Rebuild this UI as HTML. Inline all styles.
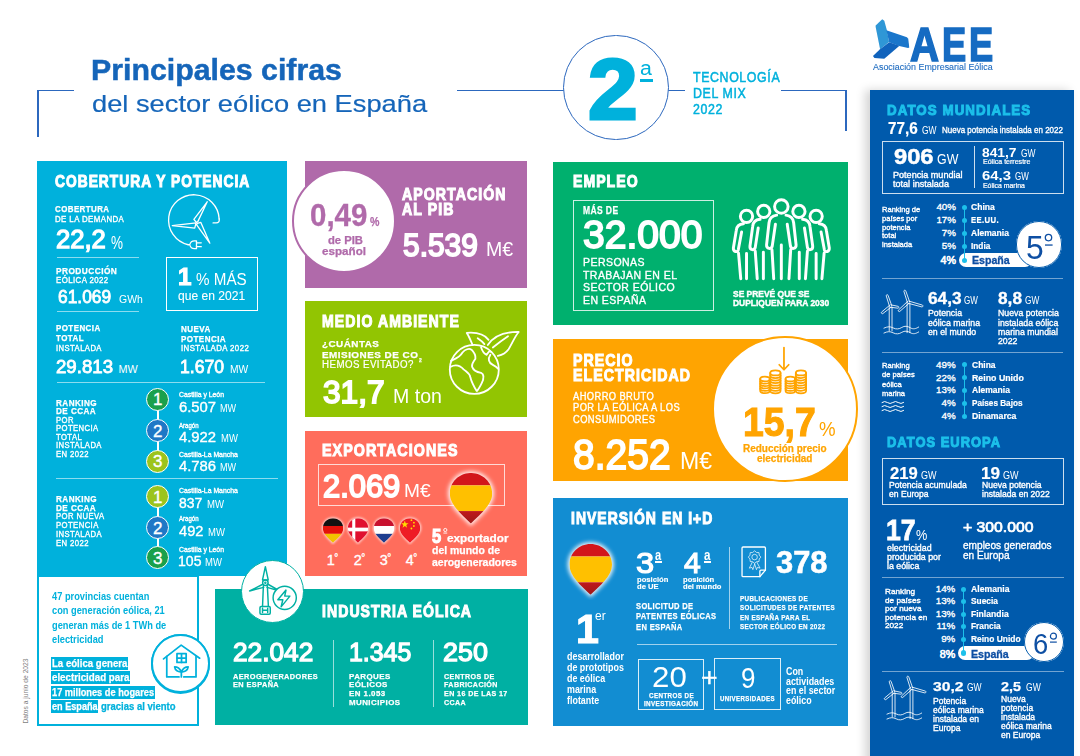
<!DOCTYPE html><html><head><meta charset="utf-8"><style>
html,body{margin:0;padding:0;background:#fff;}body{width:1080px;height:756px;position:relative;overflow:hidden;font-family:"Liberation Sans",sans-serif;}.r{position:absolute;display:block}.t{position:absolute;white-space:nowrap;transform-origin:0 0;}.t sup,.t sub{font-size:55%;line-height:0}
</style></head><body>
<div class="r" style="left:36.949999999999996px;top:89.7px;width:1.7px;height:47.8px;background:#2c68be"></div>
<div class="r" style="left:37px;top:89.65px;width:37px;height:1.7px;background:#2c68be"></div>
<div class="r" style="left:457px;top:89.65px;width:107px;height:1.7px;background:#2c68be"></div>
<div class="r" style="left:668px;top:89.65px;width:17px;height:1.7px;background:#2c68be"></div>
<div class="r" style="left:781px;top:89.65px;width:66px;height:1.7px;background:#2c68be"></div>
<div class="r" style="left:845.4499999999999px;top:89.7px;width:1.7px;height:41.8px;background:#2c68be"></div>
<div class="r" style="left:563.2px;top:34.7px;width:105.6px;height:105.6px;border-radius:50%;background:#fff;box-sizing:border-box;border:1.8px solid #2c68be;"></div>
<div class="r" style="left:640px;top:79px;width:13px;height:2.5px;background:#00b1dc;"></div>
<div class="r" style="left:37px;top:160.5px;width:250px;height:415.5px;background:#00b1dc;"></div>
<div class="r" style="left:37px;top:575px;width:162px;height:150.5px;border:2px solid #00b1dc;box-sizing:border-box;background:#fff"></div>
<div class="r" style="left:305.2px;top:160.8px;width:222.3px;height:127.39999999999998px;background:#b06aaa;"></div>
<div class="r" style="left:305.2px;top:300.9px;width:222.3px;height:116.10000000000002px;background:#92c502;"></div>
<div class="r" style="left:305.2px;top:431px;width:222.3px;height:144.5px;background:#ff6d5c;"></div>
<div class="r" style="left:215px;top:588.5px;width:312.5px;height:136.5px;background:#00b0a3;"></div>
<div class="r" style="left:553px;top:162px;width:294.5px;height:163px;background:#00b06e;"></div>
<div class="r" style="left:553px;top:339.2px;width:294.5px;height:142.3px;background:#ffa401;"></div>
<div class="r" style="left:553px;top:497.7px;width:294.5px;height:228.8px;background:#128dd2;"></div>
<div class="r" style="left:870.2px;top:90px;width:203.8px;height:680px;background:#005aac;box-shadow:-5px 0 9px rgba(0,0,0,0.17)"></div>
<div class="r" style="left:57px;top:256.7px;width:81.5px;height:1px;background:rgba(255,255,255,0.55)"></div>
<div class="r" style="left:57.4px;top:310.75px;width:81.4px;height:1px;background:rgba(255,255,255,0.55)"></div>
<div class="r" style="left:166.3px;top:257px;width:91.69999999999999px;height:54px;border:1px solid #fff;box-sizing:border-box;"></div>
<div class="r" style="left:57.4px;top:381.8px;width:207.6px;height:1px;background:rgba(255,255,255,0.55)"></div>
<div class="r" style="left:55.5px;top:477.9px;width:222.2px;height:1px;background:rgba(255,255,255,0.55)"></div>
<div class="r" style="left:157.05px;top:399px;width:1.5px;height:62px;background:#fff"></div>
<div class="r" style="left:157.05px;top:496px;width:1.5px;height:61px;background:#fff"></div>
<div class="r" style="left:146.3px;top:387.5px;width:23.0px;height:23.0px;border-radius:50%;background:#1aa04c;box-sizing:border-box;border:1.5px solid #fff;"></div>
<div class="r" style="left:146.3px;top:419.0px;width:23.0px;height:23.0px;border-radius:50%;background:#1f78c6;box-sizing:border-box;border:1.5px solid #fff;"></div>
<div class="r" style="left:146.3px;top:449.5px;width:23.0px;height:23.0px;border-radius:50%;background:#9cc41c;box-sizing:border-box;border:1.5px solid #fff;"></div>
<div class="r" style="left:146.3px;top:484.9px;width:23.0px;height:23.0px;border-radius:50%;background:#9cc41c;box-sizing:border-box;border:1.5px solid #fff;"></div>
<div class="r" style="left:146.3px;top:515.9px;width:23.0px;height:23.0px;border-radius:50%;background:#1f78c6;box-sizing:border-box;border:1.5px solid #fff;"></div>
<div class="r" style="left:146.3px;top:546.0px;width:23.0px;height:23.0px;border-radius:50%;background:#1aa04c;box-sizing:border-box;border:1.5px solid #fff;"></div>
<div class="r" style="left:51.4px;top:657px;width:76.79999999999998px;height:12.5px;background:#00b1dc;"></div>
<div class="r" style="left:51.4px;top:671px;width:78.9px;height:12.5px;background:#00b1dc;"></div>
<div class="r" style="left:51.4px;top:686px;width:103.5px;height:12.5px;background:#00b1dc;"></div>
<div class="r" style="left:51.4px;top:700px;width:47.1px;height:12.5px;background:#00b1dc;"></div>
<div class="r" style="left:150.8px;top:634.3px;width:59.4px;height:59.4px;border-radius:50%;background:#fff;box-sizing:border-box;border:2px solid #00b1dc;"></div>
<div class="r" style="left:292px;top:169px;width:104px;height:104px;border-radius:50%;background:#fff;box-sizing:border-box;border:2px solid #b06aaa;"></div>
<div class="r" style="left:317.7px;top:464.3px;width:187.10000000000002px;height:41.69999999999999px;border:1px solid rgba(255,255,255,0.75);box-sizing:border-box;"></div>
<div class="r" style="left:332.9px;top:639.6px;width:1px;height:67.89999999999998px;background:rgba(255,255,255,0.6)"></div>
<div class="r" style="left:433.2px;top:639.6px;width:1px;height:67.89999999999998px;background:rgba(255,255,255,0.6)"></div>
<div class="r" style="left:572.8px;top:199.7px;width:140.9000000000001px;height:111.60000000000002px;border:1px solid rgba(255,255,255,0.8);box-sizing:border-box;"></div>
<div class="r" style="left:712.0999999999999px;top:335.8px;width:146.4px;height:146.4px;border-radius:50%;background:#fff;box-sizing:border-box;border:2px solid #ffa401;"></div>
<div class="r" style="left:655.2px;top:561.4px;width:7.0px;height:1.8000000000000682px;background:#fff;"></div>
<div class="r" style="left:703.8px;top:561.4px;width:7.400000000000091px;height:1.8000000000000682px;background:#fff;"></div>
<div class="r" style="left:729.1px;top:546.5px;width:1px;height:82.0px;background:rgba(255,255,255,0.6)"></div>
<div class="r" style="left:637px;top:644.0px;width:199.60000000000002px;height:1px;background:rgba(255,255,255,0.6)"></div>
<div class="r" style="left:637.8px;top:658.9px;width:66.70000000000005px;height:51.60000000000002px;border:1px solid rgba(255,255,255,0.85);box-sizing:border-box;"></div>
<div class="r" style="left:714px;top:658.3px;width:67px;height:51.80000000000007px;border:1px solid rgba(255,255,255,0.85);box-sizing:border-box;"></div>
<div class="r" style="left:882.3px;top:140.6px;width:181.29999999999995px;height:53.70000000000002px;border:1px solid rgba(255,255,255,0.8);box-sizing:border-box;"></div>
<div class="r" style="left:974.0px;top:145.7px;width:1px;height:42.5px;background:rgba(255,255,255,0.8)"></div>
<div class="r" style="left:958.8px;top:253.1px;width:73.20000000000005px;height:14.400000000000006px;background:#fff;border-radius:7.200000000000003px"></div>
<div class="r" style="left:1015.6000000000001px;top:221.1px;width:46.6px;height:46.6px;border-radius:50%;background:#fff;box-sizing:border-box;border:0px solid #005aac;"></div>
<div class="r" style="left:881.5px;top:278.1px;width:181.5px;height:1px;background:rgba(255,255,255,0.45)"></div>
<div class="r" style="left:881.5px;top:352.1px;width:181.5px;height:1px;background:rgba(255,255,255,0.45)"></div>
<div class="r" style="left:882.3px;top:458.3px;width:181.4000000000001px;height:46.89999999999998px;border:1px solid rgba(255,255,255,0.8);box-sizing:border-box;"></div>
<div class="r" style="left:881.7px;top:576.9px;width:181.89999999999986px;height:1px;background:rgba(255,255,255,0.45)"></div>
<div class="r" style="left:958.3px;top:646.2px;width:76px;height:14.1px;background:#fff;border-radius:7.05px"></div>
<div class="r" style="left:1023.9999999999999px;top:621.9px;width:40.2px;height:40.2px;border-radius:50%;background:#fff;box-sizing:border-box;"></div>
<div class="r" style="left:881.7px;top:670.7px;width:181.89999999999986px;height:1px;background:rgba(255,255,255,0.45)"></div>
<svg class="r" style="left:870px;top:15px" width="45" height="45" viewBox="0 0 756 756"><polygon points="95,175 205,70 240,95 285,260 320,455 170,575 95,200" fill="#2f97d6"/><polygon points="275,255 620,375 642,400 660,545 640,555 490,520 322,458" fill="#1a76cb"/><polygon points="168,575 322,458 495,518 240,735 75,722 50,690" fill="#1063bc"/></svg>
<svg class="r" style="left:162px;top:188px" width="66" height="66" viewBox="0 0 756 756"><g fill="none" stroke="#fff" stroke-width="15" stroke-linejoin="round" stroke-linecap="round"><path d="M655,355 A290,290 0 1 0 300,650"/><path d="M655,355 Q662,400 620,400 L585,400"/><path d="M300,648 L318,648 Q330,605 370,605 L395,605 L395,695 L370,695 Q330,695 318,652"/><path d="M395,628 L450,628 M395,672 L450,672"/><path d="M395,395 L365,360 L518,158 L410,385 Z"/><path d="M390,400 L118,430 L375,460 Z"/><path d="M405,405 L445,395 L548,632 L395,420 Z"/></g></svg>
<svg class="r" style="left:440px;top:325px" width="85" height="85" viewBox="0 0 756 756"><g fill="none" stroke="#fff" stroke-width="16" stroke-linejoin="round" stroke-linecap="round"><circle cx="305" cy="395" r="218"/><path d="M290,178 C270,130 255,95 238,70 C330,62 400,90 432,132"/><path d="M335,118 C360,135 380,150 395,170"/><path d="M425,178 C480,95 580,60 700,62 C660,110 640,170 610,215 C585,250 555,265 515,275"/><path d="M470,200 C520,160 560,130 605,100"/><path d="M98,318 C140,300 175,290 200,245 C225,215 260,205 280,220 C300,240 320,270 315,300 C300,325 280,345 285,370 C295,400 330,420 365,425 C395,440 390,480 370,520 C355,550 340,575 330,585"/><path d="M92,372 C135,350 175,355 210,395 C240,420 265,430 270,465 C280,505 300,545 325,585"/><path d="M365,198 C375,230 390,255 415,265 C430,240 440,225 455,240"/><path d="M448,265 C425,300 430,335 470,355 C490,365 505,375 518,390"/></g></svg>
<svg class="r" style="left:560px;top:535px" width="60" height="65" viewBox="0 0 698 756"><defs><clipPath id="cpa"><path d="M355,695 C250,590 110,480 110,345 C110,210 220,105 355,105 C490,105 605,210 605,345 C605,480 460,590 355,695 Z"/></clipPath><filter id="gla" x="-30%" y="-30%" width="160%" height="160%"><feGaussianBlur stdDeviation="22"/></filter><linearGradient id="lga" x1="0" y1="0" x2="0" y2="1"><stop offset="0" stop-color="#c0181c"/><stop offset="1" stop-color="#8e1a17"/></linearGradient></defs><path d="M355,695 C250,590 110,480 110,345 C110,210 220,105 355,105 C490,105 605,210 605,345 C605,480 460,590 355,695 Z" fill="#fff" stroke="#fff" stroke-width="40" filter="url(#gla)" opacity="0.95"/><g clip-path="url(#cpa)"><rect x="0" y="0" width="698" height="250" fill="#d2161b"/><rect x="0" y="250" width="698" height="300" fill="#ffc000"/><rect x="0" y="550" width="698" height="206" fill="url(#lga)"/></g></svg>
<svg class="r" style="left:440.44444444444446px;top:464.01271186440675px" width="60.63" height="64.71" viewBox="0 0 698 756"><defs><clipPath id="cpb"><path d="M355,695 C250,590 110,480 110,345 C110,210 220,105 355,105 C490,105 605,210 605,345 C605,480 460,590 355,695 Z"/></clipPath><filter id="glb" x="-30%" y="-30%" width="160%" height="160%"><feGaussianBlur stdDeviation="22"/></filter><linearGradient id="lgb" x1="0" y1="0" x2="0" y2="1"><stop offset="0" stop-color="#c0181c"/><stop offset="1" stop-color="#8e1a17"/></linearGradient></defs><path d="M355,695 C250,590 110,480 110,345 C110,210 220,105 355,105 C490,105 605,210 605,345 C605,480 460,590 355,695 Z" fill="#fff" stroke="#fff" stroke-width="40" filter="url(#glb)" opacity="0.95"/><g clip-path="url(#cpb)"><rect x="0" y="0" width="698" height="250" fill="#d2161b"/><rect x="0" y="250" width="698" height="300" fill="#ffc000"/><rect x="0" y="550" width="698" height="206" fill="url(#lgb)"/></g></svg>
<svg class="r" style="left:317.76444444444445px;top:513.7576271186441px" width="29.471111111111107" height="31.265084745762714" viewBox="0 0 698 756"><defs><clipPath id="cpde"><path d="M355,695 C250,590 110,480 110,345 C110,210 220,105 355,105 C490,105 605,210 605,345 C605,480 460,590 355,695 Z"/></clipPath><filter id="glde" x="-30%" y="-30%" width="160%" height="160%"><feGaussianBlur stdDeviation="30"/></filter></defs><path d="M355,695 C250,590 110,480 110,345 C110,210 220,105 355,105 C490,105 605,210 605,345 C605,480 460,590 355,695 Z" fill="#fff" stroke="#fff" stroke-width="50" filter="url(#glde)" opacity="0.7"/><g clip-path="url(#cpde)"><rect width="698" height="290" fill="#111"/><rect y="290" width="698" height="190" fill="#e3120b"/><rect y="480" width="698" height="276" fill="#f2c200"/></g></svg>
<svg class="r" style="left:343.1644444444444px;top:513.7576271186441px" width="29.471111111111107" height="31.265084745762714" viewBox="0 0 698 756"><defs><clipPath id="cpdk"><path d="M355,695 C250,590 110,480 110,345 C110,210 220,105 355,105 C490,105 605,210 605,345 C605,480 460,590 355,695 Z"/></clipPath><filter id="gldk" x="-30%" y="-30%" width="160%" height="160%"><feGaussianBlur stdDeviation="30"/></filter></defs><path d="M355,695 C250,590 110,480 110,345 C110,210 220,105 355,105 C490,105 605,210 605,345 C605,480 460,590 355,695 Z" fill="#fff" stroke="#fff" stroke-width="50" filter="url(#gldk)" opacity="0.7"/><g clip-path="url(#cpdk)"><rect width="698" height="756" fill="#e0102f"/><rect x="215" width="75" height="756" fill="#fff"/><rect y="330" width="698" height="90" fill="#fff"/></g></svg>
<svg class="r" style="left:369.1644444444444px;top:513.7576271186441px" width="29.471111111111107" height="31.265084745762714" viewBox="0 0 698 756"><defs><clipPath id="cpnl"><path d="M355,695 C250,590 110,480 110,345 C110,210 220,105 355,105 C490,105 605,210 605,345 C605,480 460,590 355,695 Z"/></clipPath><filter id="glnl" x="-30%" y="-30%" width="160%" height="160%"><feGaussianBlur stdDeviation="30"/></filter></defs><path d="M355,695 C250,590 110,480 110,345 C110,210 220,105 355,105 C490,105 605,210 605,345 C605,480 460,590 355,695 Z" fill="#fff" stroke="#fff" stroke-width="50" filter="url(#glnl)" opacity="0.7"/><g clip-path="url(#cpnl)"><rect width="698" height="290" fill="#c8102e"/><rect y="290" width="698" height="190" fill="#fff"/><rect y="480" width="698" height="276" fill="#1e3d8f"/></g></svg>
<svg class="r" style="left:395.1644444444444px;top:513.7576271186441px" width="29.471111111111107" height="31.265084745762714" viewBox="0 0 698 756"><defs><clipPath id="cpcn"><path d="M355,695 C250,590 110,480 110,345 C110,210 220,105 355,105 C490,105 605,210 605,345 C605,480 460,590 355,695 Z"/></clipPath><filter id="glcn" x="-30%" y="-30%" width="160%" height="160%"><feGaussianBlur stdDeviation="30"/></filter></defs><path d="M355,695 C250,590 110,480 110,345 C110,210 220,105 355,105 C490,105 605,210 605,345 C605,480 460,590 355,695 Z" fill="#fff" stroke="#fff" stroke-width="50" filter="url(#glcn)" opacity="0.7"/><g clip-path="url(#cpcn)"><rect width="698" height="756" fill="#ee1c25"/><polygon points="230,160 252,225 320,225 265,265 285,330 230,290 175,330 195,265 140,225 208,225" fill="#ffde00"/><circle cx="390" cy="150" r="22" fill="#ffde00"/><circle cx="450" cy="210" r="22" fill="#ffde00"/><circle cx="450" cy="290" r="22" fill="#ffde00"/><circle cx="390" cy="350" r="22" fill="#ffde00"/></g></svg>
<svg class="r" style="left:725px;top:192px" width="115" height="93" viewBox="0 0 935 756"><g fill="none" stroke="#fff" stroke-width="24" stroke-linejoin="round" stroke-linecap="round"><circle cx="458" cy="118" r="55"/><circle cx="315" cy="158" r="50"/><circle cx="175" cy="198" r="50"/><circle cx="601" cy="158" r="50"/><circle cx="741" cy="198" r="50"/><path d="M420,188 C385,192 362,212 358,250 L338,430 C336,462 378,470 384,440 L410,262"/><path d="M496,188 C531,192 554,212 558,250 L578,430 C580,462 538,470 532,440 L506,262"/><path d="M382,470 L396,705 M458,430 L458,705 M534,470 L520,705"/><path d="M285,222 C250,225 228,245 225,280 L203,440 C200,472 240,480 246,450 L270,292"/><path d="M246,482 L262,705 M312,490 L312,705"/><path d="M631,222 C666,225 688,245 691,280 L713,440 C716,472 676,480 670,450 L646,292"/><path d="M670,482 L654,705 M604,490 L604,705"/><path d="M150,258 C110,262 95,280 92,310 L68,455 C65,487 102,495 108,470 L135,325"/><path d="M110,497 L128,705 M175,500 L175,705"/><path d="M766,258 C806,262 821,280 824,310 L848,455 C851,487 814,495 808,470 L781,325"/><path d="M806,497 L788,705 M741,500 L741,705"/></g></svg>
<svg class="r" style="left:750px;top:340px" width="70" height="60" viewBox="0 0 882 756"><g fill="none" stroke="#ffa401" stroke-width="22" stroke-linejoin="round" stroke-linecap="round"><path d="M428,95 V372 M368,312 L428,375 L488,312"/><path d="M128,490 V640 A60,30 0 0 0 248,640 V490"/><ellipse cx="188" cy="490" rx="60" ry="30"/><path d="M128,520.0 A60,30 0 0 0 248,520.0"/><path d="M128,550.0 A60,30 0 0 0 248,550.0"/><path d="M128,580.0 A60,30 0 0 0 248,580.0"/><path d="M128,610.0 A60,30 0 0 0 248,610.0"/><path d="M255,415 V640 A65,32 0 0 0 385,640 V415"/><ellipse cx="320" cy="415" rx="65" ry="32"/><path d="M255,447.14285714285717 A65,32 0 0 0 385,447.14285714285717"/><path d="M255,479.2857142857143 A65,32 0 0 0 385,479.2857142857143"/><path d="M255,511.42857142857144 A65,32 0 0 0 385,511.42857142857144"/><path d="M255,543.5714285714286 A65,32 0 0 0 385,543.5714285714286"/><path d="M255,575.7142857142858 A65,32 0 0 0 385,575.7142857142858"/><path d="M255,607.8571428571429 A65,32 0 0 0 385,607.8571428571429"/><path d="M448,490 V640 A60,30 0 0 0 568,640 V490"/><ellipse cx="508" cy="490" rx="60" ry="30"/><path d="M448,520.0 A60,30 0 0 0 568,520.0"/><path d="M448,550.0 A60,30 0 0 0 568,550.0"/><path d="M448,580.0 A60,30 0 0 0 568,580.0"/><path d="M448,610.0 A60,30 0 0 0 568,610.0"/><path d="M577,415 V640 A65,32 0 0 0 707,640 V415"/><ellipse cx="642" cy="415" rx="65" ry="32"/><path d="M577,447.14285714285717 A65,32 0 0 0 707,447.14285714285717"/><path d="M577,479.2857142857143 A65,32 0 0 0 707,479.2857142857143"/><path d="M577,511.42857142857144 A65,32 0 0 0 707,511.42857142857144"/><path d="M577,543.5714285714286 A65,32 0 0 0 707,543.5714285714286"/><path d="M577,575.7142857142858 A65,32 0 0 0 707,575.7142857142858"/><path d="M577,607.8571428571429 A65,32 0 0 0 707,607.8571428571429"/></g></svg>
<svg class="r" style="left:736px;top:542px" width="36" height="38" viewBox="0 0 716 756"><g fill="none" stroke="#fff" stroke-width="26" stroke-linejoin="round" stroke-linecap="round"><path d="M140,100 H565 Q585,100 585,120 V560 L475,690 H140 Q120,690 120,670 V120 Q120,100 140,100 Z"/><path d="M585,560 H495 Q475,560 475,580 V690"/></g><g fill="none" stroke="#fff" stroke-width="14" stroke-linejoin="round"><circle cx="370" cy="300" r="55"/><polygon points="370,175 408,208 458,212 462,262 495,300 462,338 458,388 408,392 370,425 332,392 282,388 278,338 245,300 278,262 282,212 332,208"/><path d="M325,400 L265,520 L318,505 L335,550 L375,430 M415,400 L478,520 L425,505 L408,550 L368,430"/></g></svg>
<svg class="r" style="left:878px;top:285px" width="50" height="53" viewBox="0 0 713 756"><g fill="none" stroke="#fff" stroke-width="12" stroke-linejoin="round" stroke-linecap="round"><path d="M196,295 L143,146 A14,14 0 0 0 117,154 L164,305"/><path d="M169,287 L53,384 A14,14 0 0 0 71,406 L191,313"/><path d="M177,317 L286,331 A14,14 0 0 0 290,305 L183,283"/><path d="M160,315 V655 M200,315 V655"/><path d="M451,240 L395,81 A14,14 0 0 0 369,89 L419,250"/><path d="M424,232 L291,358 A14,14 0 0 0 309,378 L446,258"/><path d="M430,261 L626,313 A14,14 0 0 0 634,287 L440,229"/><path d="M415,260 V680 M455,260 V680"/><path d="M85,615 C140,590 170,590 215,612 C260,635 300,630 340,605 C380,580 420,585 460,610 C500,635 540,625 580,600"/><path d="M85,685 C140,660 170,660 215,682 C260,705 300,700 340,675 C380,650 420,655 460,680 C500,705 540,695 580,670"/></g></svg>
<svg class="r" style="left:880.5px;top:671px" width="50" height="53" viewBox="0 0 713 756"><g fill="none" stroke="#fff" stroke-width="12" stroke-linejoin="round" stroke-linecap="round"><path d="M196,295 L143,146 A14,14 0 0 0 117,154 L164,305"/><path d="M169,287 L53,384 A14,14 0 0 0 71,406 L191,313"/><path d="M177,317 L286,331 A14,14 0 0 0 290,305 L183,283"/><path d="M160,315 V655 M200,315 V655"/><path d="M451,240 L395,81 A14,14 0 0 0 369,89 L419,250"/><path d="M424,232 L291,358 A14,14 0 0 0 309,378 L446,258"/><path d="M430,261 L626,313 A14,14 0 0 0 634,287 L440,229"/><path d="M415,260 V680 M455,260 V680"/><path d="M85,615 C140,590 170,590 215,612 C260,635 300,630 340,605 C380,580 420,585 460,610 C500,635 540,625 580,600"/><path d="M85,685 C140,660 170,660 215,682 C260,705 300,700 340,675 C380,650 420,655 460,680 C500,705 540,695 580,670"/></g></svg>
<svg class="r" style="left:881px;top:400px" width="24" height="13" viewBox="0 0 24 13"><g fill="none" stroke="#fff" stroke-width="1" stroke-linecap="round"><path d="M1,2.5 q2.7,-2 5.4,0 t5.4,0 t5.4,0 t5.4,0"/><path d="M1,6.5 q2.7,-2 5.4,0 t5.4,0 t5.4,0 t5.4,0"/><path d="M1,10.5 q2.7,-2 5.4,0 t5.4,0 t5.4,0 t5.4,0"/></g></svg>
<div class="t" id="t0_0" style="left:90.95px;top:55.21px;font-size:30.35px;line-height:30.35px;font-weight:700;color:#1565b9;transform:scaleX(0.9982);-webkit-text-stroke:0.5px #1565b9;">Principales cifras</div>
<div class="t" id="t1_0" style="left:91.67px;top:92.31px;font-size:23.8px;line-height:23.8px;font-weight:400;color:#1565b9;transform:scaleX(1.1460);-webkit-text-stroke:0.2px #1565b9;">del sector eólico en España</div>
<div class="t" id="t2_0" style="left:587.78px;top:46.61px;font-size:85.5px;line-height:85.5px;font-weight:700;color:#00b1dc;transform:scaleX(1.0435);-webkit-text-stroke:3px #00b1dc;">2</div>
<div class="t" id="t3_0" style="left:640.00px;top:58.01px;font-size:20px;line-height:20px;font-weight:400;color:#00b1dc;transform:scaleX(1.0667);">a</div>
<div class="t" id="t4_0" style="left:692.72px;top:69.71px;font-size:14.25px;line-height:14.25px;font-weight:400;color:#00b1dc;letter-spacing:0.7px;transform:scaleX(0.8687);-webkit-text-stroke:0.5px #00b1dc;">TECNOLOGÍA</div>
<div class="t" id="t4_1" style="left:692.72px;top:85.80px;font-size:14.25px;line-height:14.25px;font-weight:400;color:#00b1dc;letter-spacing:0.7px;transform:scaleX(0.8687);-webkit-text-stroke:0.5px #00b1dc;">DEL MIX</div>
<div class="t" id="t4_2" style="left:692.72px;top:101.91px;font-size:14.25px;line-height:14.25px;font-weight:400;color:#00b1dc;letter-spacing:0.7px;transform:scaleX(0.8687);-webkit-text-stroke:0.5px #00b1dc;">2022</div>
<div class="t" id="t5_0" style="left:909.83px;top:20.80px;font-size:47.2px;line-height:47.2px;font-weight:700;color:#166bc2;transform:scaleX(0.8512);-webkit-text-stroke:1.6px #166bc2;">A</div>
<div class="t" id="t6_0" style="left:942.11px;top:20.80px;font-size:47.2px;line-height:47.2px;font-weight:700;color:#166bc2;transform:scaleX(0.7692);-webkit-text-stroke:1.6px #166bc2;">E</div>
<div class="t" id="t7_0" style="left:969.31px;top:20.80px;font-size:47.2px;line-height:47.2px;font-weight:700;color:#166bc2;transform:scaleX(0.7692);-webkit-text-stroke:1.6px #166bc2;">E</div>
<div class="t" id="t8_0" style="left:873.05px;top:63.31px;font-size:8.5px;line-height:8.5px;font-weight:400;color:#1f6cc0;transform:scaleX(1.0462);-webkit-text-stroke:0.1px #1f6cc0;">Asociación Empresarial Eólica</div>
<div class="t" id="t9_0" style="left:54.54px;top:172.52px;font-size:17.35px;line-height:17.35px;font-weight:700;color:#fff;letter-spacing:1.3px;transform:scaleX(0.7927);-webkit-text-stroke:1.1px #fff;">COBERTURA Y POTENCIA</div>
<div class="t" id="t10_0" style="left:55.12px;top:205.01px;font-size:8.4px;line-height:8.4px;font-weight:700;color:#fff;letter-spacing:0.45px;transform:scaleX(0.9458);-webkit-text-stroke:0.25px #fff;">COBERTURA</div>
<div class="t" id="t11_0" style="left:55.16px;top:214.61px;font-size:8.4px;line-height:8.4px;font-weight:400;color:#fff;letter-spacing:0.45px;transform:scaleX(0.9387);-webkit-text-stroke:0.35px #fff;">DE LA DEMANDA</div>
<div class="t" id="t12_0" style="left:55.65px;top:226.71px;font-size:25.85px;line-height:25.85px;font-weight:400;color:#fff;transform:scaleX(0.9915);-webkit-text-stroke:1.3px #fff;">22,2</div>
<div class="t" id="t13_0" style="left:111.00px;top:233.60px;font-size:18px;line-height:18px;font-weight:400;color:#fff;transform:scaleX(0.7500);">%</div>
<div class="t" id="t14_0" style="left:55.72px;top:266.80px;font-size:8.4px;line-height:8.4px;font-weight:700;color:#fff;letter-spacing:0.45px;transform:scaleX(0.9922);-webkit-text-stroke:0.25px #fff;">PRODUCCIÓN</div>
<div class="t" id="t15_0" style="left:55.76px;top:276.01px;font-size:8.4px;line-height:8.4px;font-weight:400;color:#fff;letter-spacing:0.45px;transform:scaleX(0.9372);-webkit-text-stroke:0.35px #fff;">EÓLICA 2022</div>
<div class="t" id="t16_0" style="left:57.79px;top:288.71px;font-size:17.8px;line-height:17.8px;font-weight:400;color:#fff;transform:scaleX(0.9766);-webkit-text-stroke:0.8px #fff;">61.069</div>
<div class="t" id="t17_0" style="left:118.50px;top:293.71px;font-size:10.8px;line-height:10.8px;font-weight:400;color:#fff;transform:scaleX(0.9679);">GWh</div>
<div class="t" id="t18_0" style="left:55.62px;top:325.41px;font-size:8.2px;line-height:8.2px;font-weight:700;color:#fff;letter-spacing:0.45px;transform:scaleX(0.9718);-webkit-text-stroke:0.25px #fff;">POTENCIA</div>
<div class="t" id="t18_1" style="left:55.62px;top:335.21px;font-size:8.2px;line-height:8.2px;font-weight:700;color:#fff;letter-spacing:0.45px;transform:scaleX(0.9718);-webkit-text-stroke:0.25px #fff;">TOTAL</div>
<div class="t" id="t19_0" style="left:55.66px;top:345.01px;font-size:8.2px;line-height:8.2px;font-weight:400;color:#fff;letter-spacing:0.45px;transform:scaleX(0.9376);-webkit-text-stroke:0.35px #fff;">INSTALADA</div>
<div class="t" id="t20_0" style="left:55.92px;top:359.01px;font-size:17.8px;line-height:17.8px;font-weight:400;color:#fff;transform:scaleX(1.0489);-webkit-text-stroke:0.8px #fff;">29.813</div>
<div class="t" id="t21_0" style="left:118.50px;top:364.00px;font-size:10.8px;line-height:10.8px;font-weight:400;color:#fff;">MW</div>
<div class="t" id="t22_0" style="left:180.62px;top:326.01px;font-size:8.2px;line-height:8.2px;font-weight:700;color:#fff;letter-spacing:0.45px;transform:scaleX(0.9827);-webkit-text-stroke:0.25px #fff;">NUEVA</div>
<div class="t" id="t22_1" style="left:180.62px;top:335.80px;font-size:8.2px;line-height:8.2px;font-weight:700;color:#fff;letter-spacing:0.45px;transform:scaleX(0.9827);-webkit-text-stroke:0.25px #fff;">POTENCIA</div>
<div class="t" id="t23_0" style="left:180.67px;top:345.01px;font-size:8.2px;line-height:8.2px;font-weight:400;color:#fff;letter-spacing:0.45px;transform:scaleX(0.9580);-webkit-text-stroke:0.35px #fff;">INSTALADA 2022</div>
<div class="t" id="t24_0" style="left:180.41px;top:359.01px;font-size:17.8px;line-height:17.8px;font-weight:400;color:#fff;transform:scaleX(0.9908);-webkit-text-stroke:0.8px #fff;">1.670</div>
<div class="t" id="t25_0" style="left:230.00px;top:364.00px;font-size:10.8px;line-height:10.8px;font-weight:400;color:#fff;transform:scaleX(0.9503);">MW</div>
<div class="t" id="t26_0" style="left:177.55px;top:265.42px;font-size:24.45px;line-height:24.45px;font-weight:700;color:#fff;transform:scaleX(0.9924);-webkit-text-stroke:1.1px #fff;">1</div>
<div class="t" id="t27_0" style="left:195.50px;top:272.41px;font-size:16.8px;line-height:16.8px;font-weight:400;color:#fff;transform:scaleX(0.9057);">% MÁS</div>
<div class="t" id="t28_0" style="left:177.55px;top:289.00px;font-size:13px;line-height:13px;font-weight:400;color:#fff;transform:scaleX(0.9284);-webkit-text-stroke:0.1px #fff;">que en 2021</div>
<div class="t" id="t29_0" style="left:55.62px;top:399.51px;font-size:8.2px;line-height:8.2px;font-weight:700;color:#fff;letter-spacing:0.45px;transform:scaleX(0.9929);-webkit-text-stroke:0.25px #fff;">RANKING</div>
<div class="t" id="t29_1" style="left:55.62px;top:408.01px;font-size:8.2px;line-height:8.2px;font-weight:700;color:#fff;letter-spacing:0.45px;transform:scaleX(0.9929);-webkit-text-stroke:0.25px #fff;">DE CCAA</div>
<div class="t" id="t30_0" style="left:55.66px;top:416.51px;font-size:8.2px;line-height:8.2px;font-weight:400;color:#fff;letter-spacing:0.45px;transform:scaleX(0.9376);-webkit-text-stroke:0.35px #fff;">POR</div>
<div class="t" id="t30_1" style="left:55.66px;top:425.01px;font-size:8.2px;line-height:8.2px;font-weight:400;color:#fff;letter-spacing:0.45px;transform:scaleX(0.9376);-webkit-text-stroke:0.35px #fff;">POTENCIA</div>
<div class="t" id="t30_2" style="left:55.66px;top:433.51px;font-size:8.2px;line-height:8.2px;font-weight:400;color:#fff;letter-spacing:0.45px;transform:scaleX(0.9376);-webkit-text-stroke:0.35px #fff;">TOTAL</div>
<div class="t" id="t30_3" style="left:55.66px;top:442.01px;font-size:8.2px;line-height:8.2px;font-weight:400;color:#fff;letter-spacing:0.45px;transform:scaleX(0.9376);-webkit-text-stroke:0.35px #fff;">INSTALADA</div>
<div class="t" id="t30_4" style="left:55.66px;top:450.51px;font-size:8.2px;line-height:8.2px;font-weight:400;color:#fff;letter-spacing:0.45px;transform:scaleX(0.9376);-webkit-text-stroke:0.35px #fff;">EN 2022</div>
<div class="t" id="t31_0" style="left:55.62px;top:496.01px;font-size:8.2px;line-height:8.2px;font-weight:700;color:#fff;letter-spacing:0.45px;transform:scaleX(0.9929);-webkit-text-stroke:0.25px #fff;">RANKING</div>
<div class="t" id="t31_1" style="left:55.62px;top:504.71px;font-size:8.2px;line-height:8.2px;font-weight:700;color:#fff;letter-spacing:0.45px;transform:scaleX(0.9929);-webkit-text-stroke:0.25px #fff;">DE CCAA</div>
<div class="t" id="t32_0" style="left:55.66px;top:513.41px;font-size:8.2px;line-height:8.2px;font-weight:400;color:#fff;letter-spacing:0.45px;transform:scaleX(0.9404);-webkit-text-stroke:0.35px #fff;">POR NUEVA</div>
<div class="t" id="t32_1" style="left:55.66px;top:522.10px;font-size:8.2px;line-height:8.2px;font-weight:400;color:#fff;letter-spacing:0.45px;transform:scaleX(0.9404);-webkit-text-stroke:0.35px #fff;">POTENCIA</div>
<div class="t" id="t32_2" style="left:55.66px;top:530.80px;font-size:8.2px;line-height:8.2px;font-weight:400;color:#fff;letter-spacing:0.45px;transform:scaleX(0.9404);-webkit-text-stroke:0.35px #fff;">INSTALADA</div>
<div class="t" id="t32_3" style="left:55.66px;top:539.51px;font-size:8.2px;line-height:8.2px;font-weight:400;color:#fff;letter-spacing:0.45px;transform:scaleX(0.9404);-webkit-text-stroke:0.35px #fff;">EN 2022</div>
<div class="t" id="t33_0" style="left:153.07px;top:391.30px;font-size:17px;line-height:17px;font-weight:400;color:#fff;-webkit-text-stroke:0.35px #fff;">1</div>
<div class="t" id="t34_0" style="left:153.07px;top:422.80px;font-size:17px;line-height:17px;font-weight:400;color:#fff;-webkit-text-stroke:0.35px #fff;">2</div>
<div class="t" id="t35_0" style="left:153.07px;top:453.30px;font-size:17px;line-height:17px;font-weight:400;color:#fff;-webkit-text-stroke:0.35px #fff;">3</div>
<div class="t" id="t36_0" style="left:153.07px;top:488.71px;font-size:17px;line-height:17px;font-weight:400;color:#fff;-webkit-text-stroke:0.35px #fff;">1</div>
<div class="t" id="t37_0" style="left:153.07px;top:519.71px;font-size:17px;line-height:17px;font-weight:400;color:#fff;-webkit-text-stroke:0.35px #fff;">2</div>
<div class="t" id="t38_0" style="left:153.07px;top:549.80px;font-size:17px;line-height:17px;font-weight:400;color:#fff;-webkit-text-stroke:0.35px #fff;">3</div>
<div class="t" id="t39_0" style="left:178.87px;top:391.41px;font-size:7px;line-height:7px;font-weight:400;color:#fff;transform:scaleX(0.9791);-webkit-text-stroke:0.35px #fff;">Castilla y León</div>
<div class="t" id="t40_0" style="left:178.89px;top:400.01px;font-size:14px;line-height:14px;font-weight:400;color:#fff;transform:scaleX(1.0590);-webkit-text-stroke:0.35px #fff;">6.507</div>
<div class="t" id="t41_0" style="left:219.90px;top:404.00px;font-size:10px;line-height:10px;font-weight:400;color:#fff;transform:scaleX(0.9056);">MW</div>
<div class="t" id="t42_0" style="left:178.85px;top:421.51px;font-size:7px;line-height:7px;font-weight:400;color:#fff;transform:scaleX(0.8685);-webkit-text-stroke:0.35px #fff;">Aragón</div>
<div class="t" id="t43_0" style="left:178.89px;top:430.01px;font-size:14px;line-height:14px;font-weight:400;color:#fff;transform:scaleX(1.0590);-webkit-text-stroke:0.35px #fff;">4.922</div>
<div class="t" id="t44_0" style="left:221.00px;top:434.00px;font-size:10px;line-height:10px;font-weight:400;color:#fff;transform:scaleX(0.9493);">MW</div>
<div class="t" id="t45_0" style="left:178.87px;top:451.01px;font-size:7px;line-height:7px;font-weight:400;color:#fff;transform:scaleX(0.9822);-webkit-text-stroke:0.35px #fff;">Castilla-La Mancha</div>
<div class="t" id="t46_0" style="left:178.89px;top:458.71px;font-size:14px;line-height:14px;font-weight:400;color:#fff;transform:scaleX(1.0590);-webkit-text-stroke:0.35px #fff;">4.786</div>
<div class="t" id="t47_0" style="left:219.90px;top:462.70px;font-size:10px;line-height:10px;font-weight:400;color:#fff;transform:scaleX(0.9056);">MW</div>
<div class="t" id="t48_0" style="left:178.87px;top:487.41px;font-size:7px;line-height:7px;font-weight:400;color:#fff;transform:scaleX(0.9822);-webkit-text-stroke:0.35px #fff;">Castilla-La Mancha</div>
<div class="t" id="t49_0" style="left:178.87px;top:496.01px;font-size:14px;line-height:14px;font-weight:400;color:#fff;transform:scaleX(0.9949);-webkit-text-stroke:0.35px #fff;">837</div>
<div class="t" id="t50_0" style="left:207.00px;top:500.00px;font-size:10px;line-height:10px;font-weight:400;color:#fff;transform:scaleX(0.9547);">MW</div>
<div class="t" id="t51_0" style="left:178.85px;top:515.01px;font-size:7px;line-height:7px;font-weight:400;color:#fff;transform:scaleX(0.8685);-webkit-text-stroke:0.35px #fff;">Aragón</div>
<div class="t" id="t52_0" style="left:178.88px;top:523.71px;font-size:14px;line-height:14px;font-weight:400;color:#fff;transform:scaleX(1.0451);-webkit-text-stroke:0.35px #fff;">492</div>
<div class="t" id="t53_0" style="left:208.30px;top:527.70px;font-size:10px;line-height:10px;font-weight:400;color:#fff;transform:scaleX(0.9493);">MW</div>
<div class="t" id="t54_0" style="left:178.87px;top:546.01px;font-size:7px;line-height:7px;font-weight:400;color:#fff;transform:scaleX(0.9791);-webkit-text-stroke:0.35px #fff;">Castilla y León</div>
<div class="t" id="t55_0" style="left:177.87px;top:553.81px;font-size:14px;line-height:14px;font-weight:400;color:#fff;transform:scaleX(1.0034);-webkit-text-stroke:0.35px #fff;">105</div>
<div class="t" id="t56_0" style="left:204.80px;top:557.81px;font-size:10px;line-height:10px;font-weight:400;color:#fff;transform:scaleX(0.9493);">MW</div>
<div class="t" id="t57_0" style="left:51.80px;top:591.00px;font-size:10.5px;line-height:10.5px;font-weight:700;color:#00b1dc;transform:scaleX(0.8821);">47 provincias cuentan</div>
<div class="t" id="t57_1" style="left:51.80px;top:605.41px;font-size:10.5px;line-height:10.5px;font-weight:700;color:#00b1dc;transform:scaleX(0.8821);">con generación eólica, 21</div>
<div class="t" id="t57_2" style="left:51.80px;top:619.81px;font-size:10.5px;line-height:10.5px;font-weight:700;color:#00b1dc;transform:scaleX(0.8821);">generan más de 1 TWh de</div>
<div class="t" id="t57_3" style="left:51.80px;top:634.21px;font-size:10.5px;line-height:10.5px;font-weight:700;color:#00b1dc;transform:scaleX(0.8821);">electricidad</div>
<div class="t" id="t58_0" style="left:52.11px;top:658.00px;font-size:10.5px;line-height:10.5px;font-weight:700;color:#fff;transform:scaleX(0.9154);-webkit-text-stroke:0.25px #fff;">La eólica genera</div>
<div class="t" id="t59_0" style="left:52.12px;top:672.00px;font-size:10.5px;line-height:10.5px;font-weight:700;color:#fff;transform:scaleX(0.9277);-webkit-text-stroke:0.25px #fff;">electricidad para</div>
<div class="t" id="t60_0" style="left:52.11px;top:687.00px;font-size:10.5px;line-height:10.5px;font-weight:700;color:#fff;transform:scaleX(0.8787);-webkit-text-stroke:0.25px #fff;">17 millones de hogares</div>
<div class="t" id="t61_0" style="left:52.11px;top:701.00px;font-size:10.5px;line-height:10.5px;font-weight:700;color:#fff;transform:scaleX(0.8691);-webkit-text-stroke:0.25px #fff;">en España</div>
<div class="t" id="t62_0" style="left:101.11px;top:701.00px;font-size:10.5px;line-height:10.5px;font-weight:700;color:#00b1dc;transform:scaleX(0.9059);-webkit-text-stroke:0.25px #00b1dc;">gracias al viento</div>
<div class="t" id="t63_0" style="left:310.19px;top:199.60px;font-size:31px;line-height:31px;font-weight:700;color:#b06aaa;transform:scaleX(0.9513);-webkit-text-stroke:0.3px #b06aaa;">0,49</div>
<div class="t" id="t64_0" style="left:370.10px;top:214.60px;font-size:13px;line-height:13px;font-weight:700;color:#b06aaa;transform:scaleX(0.8163);-webkit-text-stroke:0.25px #b06aaa;">%</div>
<div class="t" id="t65_0" style="left:328.00px;top:235.00px;font-size:10.5px;line-height:10.5px;font-weight:700;color:#b06aaa;transform:scaleX(1.0707);-webkit-text-stroke:0.25px #b06aaa;">de PIB</div>
<div class="t" id="t66_0" style="left:322.00px;top:245.50px;font-size:10.5px;line-height:10.5px;font-weight:700;color:#b06aaa;transform:scaleX(1.1087);-webkit-text-stroke:0.25px #b06aaa;">español</div>
<div class="t" id="t67_0" style="left:402.35px;top:186.02px;font-size:17.35px;line-height:17.35px;font-weight:700;color:#fff;letter-spacing:1.3px;transform:scaleX(0.8152);-webkit-text-stroke:1.1px #fff;">APORTACIÓN</div>
<div class="t" id="t67_1" style="left:402.35px;top:200.91px;font-size:17.35px;line-height:17.35px;font-weight:700;color:#fff;letter-spacing:1.3px;transform:scaleX(0.8152);-webkit-text-stroke:1.1px #fff;">AL PIB</div>
<div class="t" id="t68_0" style="left:402.50px;top:230.27px;font-size:31.1px;line-height:31.1px;font-weight:400;color:#fff;transform:scaleX(0.9623);-webkit-text-stroke:1.8px #fff;">5.539</div>
<div class="t" id="t69_0" style="left:485.70px;top:240.21px;font-size:19.5px;line-height:19.5px;font-weight:400;color:#fff;transform:scaleX(1.0021);">M€</div>
<div class="t" id="t70_0" style="left:321.53px;top:313.41px;font-size:17.35px;line-height:17.35px;font-weight:700;color:#fff;letter-spacing:1.3px;transform:scaleX(0.8122);-webkit-text-stroke:1.1px #fff;">MEDIO AMBIENTE</div>
<div class="t" id="t71_0" style="left:322.33px;top:340.21px;font-size:9.2px;line-height:9.2px;font-weight:700;color:#fff;letter-spacing:0.45px;transform:scaleX(1.0731);-webkit-text-stroke:0.25px #fff;">¿CUÁNTAS</div>
<div class="t" id="t72_0" style="left:322.33px;top:350.81px;font-size:9.2px;line-height:9.2px;font-weight:700;color:#fff;letter-spacing:0.45px;transform:scaleX(1.0774);-webkit-text-stroke:0.25px #fff;">EMISIONES DE CO</div>
<div class="t" id="t73_0" style="left:419.10px;top:356.51px;font-size:6px;line-height:6px;font-weight:700;color:#fff;transform:scaleX(0.8235);-webkit-text-stroke:0.25px #fff;">2</div>
<div class="t" id="t74_0" style="left:322.30px;top:360.31px;font-size:10px;line-height:10px;font-weight:400;color:#fff;letter-spacing:0.45px;transform:scaleX(0.9720);-webkit-text-stroke:0.2px #fff;">HEMOS EVITADO?</div>
<div class="t" id="t75_0" style="left:322.90px;top:377.41px;font-size:31.1px;line-height:31.1px;font-weight:400;color:#fff;transform:scaleX(1.0163);-webkit-text-stroke:1.8px #fff;">31,7</div>
<div class="t" id="t76_0" style="left:393.47px;top:385.41px;font-size:21px;line-height:21px;font-weight:400;color:#fff;transform:scaleX(0.9303);">M ton</div>
<div class="t" id="t77_0" style="left:321.53px;top:442.02px;font-size:17.35px;line-height:17.35px;font-weight:700;color:#fff;letter-spacing:1.3px;transform:scaleX(0.8223);-webkit-text-stroke:1.1px #fff;">EXPORTACIONES</div>
<div class="t" id="t78_0" style="left:322.90px;top:471.82px;font-size:30.7px;line-height:30.7px;font-weight:400;color:#fff;transform:scaleX(1.0062);-webkit-text-stroke:1.8px #fff;">2.069</div>
<div class="t" id="t79_0" style="left:404.29px;top:480.80px;font-size:19px;line-height:19px;font-weight:400;color:#fff;transform:scaleX(1.0067);">M€</div>
<div class="t" id="t80_0" style="left:326.78px;top:552.60px;font-size:14.4px;line-height:14.4px;font-weight:400;color:#fff;-webkit-text-stroke:0.35px #fff;">1<sup>º</sup></div>
<div class="t" id="t81_0" style="left:353.68px;top:552.60px;font-size:14.4px;line-height:14.4px;font-weight:400;color:#fff;-webkit-text-stroke:0.35px #fff;">2<sup>º</sup></div>
<div class="t" id="t82_0" style="left:379.68px;top:552.60px;font-size:14.4px;line-height:14.4px;font-weight:400;color:#fff;-webkit-text-stroke:0.35px #fff;">3<sup>º</sup></div>
<div class="t" id="t83_0" style="left:405.68px;top:552.60px;font-size:14.4px;line-height:14.4px;font-weight:400;color:#fff;-webkit-text-stroke:0.35px #fff;">4<sup>º</sup></div>
<div class="t" id="t84_0" style="left:431.87px;top:527.00px;font-size:19.45px;line-height:19.45px;font-weight:700;color:#fff;transform:scaleX(0.8512);-webkit-text-stroke:1.1px #fff;">5</div>
<div class="t" id="t85_0" style="left:446.94px;top:533.00px;font-size:10.5px;line-height:10.5px;font-weight:700;color:#fff;transform:scaleX(1.1217);-webkit-text-stroke:0.25px #fff;">exportador</div>
<div class="t" id="t86_0" style="left:431.52px;top:544.71px;font-size:10.5px;line-height:10.5px;font-weight:700;color:#fff;transform:scaleX(0.9963);-webkit-text-stroke:0.25px #fff;">del mundo de</div>
<div class="t" id="t86_1" style="left:431.52px;top:556.61px;font-size:10.5px;line-height:10.5px;font-weight:700;color:#fff;transform:scaleX(0.9963);-webkit-text-stroke:0.25px #fff;">aerogeneradores</div>
<div class="t" id="t87_0" style="left:321.53px;top:603.30px;font-size:17.35px;line-height:17.35px;font-weight:700;color:#fff;letter-spacing:1.3px;transform:scaleX(0.8115);-webkit-text-stroke:1.1px #fff;">INDUSTRIA EÓLICA</div>
<div class="t" id="t88_0" style="left:232.64px;top:640.21px;font-size:25.85px;line-height:25.85px;font-weight:400;color:#fff;transform:scaleX(1.0155);-webkit-text-stroke:1.3px #fff;">22.042</div>
<div class="t" id="t89_0" style="left:233.11px;top:672.60px;font-size:8px;line-height:8px;font-weight:700;color:#fff;letter-spacing:0.45px;transform:scaleX(0.9193);-webkit-text-stroke:0.25px #fff;">AEROGENERADORES</div>
<div class="t" id="t89_1" style="left:233.11px;top:681.21px;font-size:8px;line-height:8px;font-weight:700;color:#fff;letter-spacing:0.45px;transform:scaleX(0.9193);-webkit-text-stroke:0.25px #fff;">EN ESPAÑA</div>
<div class="t" id="t90_0" style="left:348.96px;top:640.21px;font-size:25.85px;line-height:25.85px;font-weight:400;color:#fff;transform:scaleX(0.9629);-webkit-text-stroke:1.3px #fff;">1.345</div>
<div class="t" id="t91_0" style="left:349.42px;top:672.60px;font-size:8px;line-height:8px;font-weight:700;color:#fff;letter-spacing:0.45px;transform:scaleX(0.9900);-webkit-text-stroke:0.25px #fff;">PARQUES</div>
<div class="t" id="t91_1" style="left:349.42px;top:681.40px;font-size:8px;line-height:8px;font-weight:700;color:#fff;letter-spacing:0.45px;transform:scaleX(0.9900);-webkit-text-stroke:0.25px #fff;">EÓLICOS</div>
<div class="t" id="t91_2" style="left:349.42px;top:690.21px;font-size:8px;line-height:8px;font-weight:700;color:#fff;letter-spacing:0.45px;transform:scaleX(0.9900);-webkit-text-stroke:0.25px #fff;">EN 1.053</div>
<div class="t" id="t91_3" style="left:349.42px;top:699.01px;font-size:8px;line-height:8px;font-weight:700;color:#fff;letter-spacing:0.45px;transform:scaleX(0.9900);-webkit-text-stroke:0.25px #fff;">MUNICIPIOS</div>
<div class="t" id="t92_0" style="left:442.84px;top:640.21px;font-size:25.85px;line-height:25.85px;font-weight:400;color:#fff;transform:scaleX(1.0407);-webkit-text-stroke:1.3px #fff;">250</div>
<div class="t" id="t93_0" style="left:444.11px;top:672.60px;font-size:8px;line-height:8px;font-weight:700;color:#fff;letter-spacing:0.45px;transform:scaleX(0.8887);-webkit-text-stroke:0.25px #fff;">CENTROS DE</div>
<div class="t" id="t93_1" style="left:444.11px;top:681.40px;font-size:8px;line-height:8px;font-weight:700;color:#fff;letter-spacing:0.45px;transform:scaleX(0.8887);-webkit-text-stroke:0.25px #fff;">FABRICACIÓN</div>
<div class="t" id="t93_2" style="left:444.11px;top:690.21px;font-size:8px;line-height:8px;font-weight:700;color:#fff;letter-spacing:0.45px;transform:scaleX(0.8887);-webkit-text-stroke:0.25px #fff;">EN 16 DE LAS 17</div>
<div class="t" id="t93_3" style="left:444.11px;top:699.01px;font-size:8px;line-height:8px;font-weight:700;color:#fff;letter-spacing:0.45px;transform:scaleX(0.8887);-webkit-text-stroke:0.25px #fff;">CCAA</div>
<div class="t" id="t94_0" style="left:573.14px;top:172.52px;font-size:17.35px;line-height:17.35px;font-weight:700;color:#fff;letter-spacing:1.3px;transform:scaleX(0.8104);-webkit-text-stroke:1.1px #fff;">EMPLEO</div>
<div class="t" id="t95_0" style="left:583.31px;top:205.81px;font-size:10px;line-height:10px;font-weight:700;color:#fff;letter-spacing:0.45px;transform:scaleX(0.8533);-webkit-text-stroke:0.25px #fff;">MÁS DE</div>
<div class="t" id="t96_0" style="left:583.10px;top:216.30px;font-size:38.1px;line-height:38.1px;font-weight:400;color:#fff;transform:scaleX(1.0251);-webkit-text-stroke:1.8px #fff;">32.000</div>
<div class="t" id="t97_0" style="left:583.37px;top:257.21px;font-size:10.6px;line-height:10.6px;font-weight:400;color:#fff;letter-spacing:0.45px;transform:scaleX(0.9926);-webkit-text-stroke:0.35px #fff;">PERSONAS</div>
<div class="t" id="t97_1" style="left:583.37px;top:269.80px;font-size:10.6px;line-height:10.6px;font-weight:400;color:#fff;letter-spacing:0.45px;transform:scaleX(0.9926);-webkit-text-stroke:0.35px #fff;">TRABAJAN EN EL</div>
<div class="t" id="t97_2" style="left:583.37px;top:282.41px;font-size:10.6px;line-height:10.6px;font-weight:400;color:#fff;letter-spacing:0.45px;transform:scaleX(0.9926);-webkit-text-stroke:0.35px #fff;">SECTOR EÓLICO</div>
<div class="t" id="t97_3" style="left:583.37px;top:295.01px;font-size:10.6px;line-height:10.6px;font-weight:400;color:#fff;letter-spacing:0.45px;transform:scaleX(0.9926);-webkit-text-stroke:0.35px #fff;">EN ESPAÑA</div>
<div class="t" id="t98_0" style="left:732.59px;top:290.41px;font-size:8.8px;line-height:8.8px;font-weight:700;color:#fff;letter-spacing:0px;transform:scaleX(0.9600);-webkit-text-stroke:0.4px #fff;">SE PREVÉ QUE SE</div>
<div class="t" id="t98_1" style="left:732.59px;top:299.00px;font-size:8.8px;line-height:8.8px;font-weight:700;color:#fff;letter-spacing:0px;transform:scaleX(0.9600);-webkit-text-stroke:0.4px #fff;">DUPLIQUEN PARA 2030</div>
<div class="t" id="t99_0" style="left:572.93px;top:352.30px;font-size:17.35px;line-height:17.35px;font-weight:700;color:#fff;letter-spacing:1.3px;transform:scaleX(0.8162);-webkit-text-stroke:1.1px #fff;">PRECIO</div>
<div class="t" id="t99_1" style="left:572.93px;top:367.30px;font-size:17.35px;line-height:17.35px;font-weight:700;color:#fff;letter-spacing:1.3px;transform:scaleX(0.8162);-webkit-text-stroke:1.1px #fff;">ELECTRICIDAD</div>
<div class="t" id="t100_0" style="left:573.46px;top:391.50px;font-size:10px;line-height:10px;font-weight:400;color:#fff;letter-spacing:0.45px;transform:scaleX(0.9330);-webkit-text-stroke:0.35px #fff;">AHORRO BRUTO</div>
<div class="t" id="t100_1" style="left:573.46px;top:403.31px;font-size:10px;line-height:10px;font-weight:400;color:#fff;letter-spacing:0.45px;transform:scaleX(0.9330);-webkit-text-stroke:0.35px #fff;">POR LA EÓLICA A LOS</div>
<div class="t" id="t100_2" style="left:573.46px;top:415.11px;font-size:10px;line-height:10px;font-weight:400;color:#fff;letter-spacing:0.45px;transform:scaleX(0.9330);-webkit-text-stroke:0.35px #fff;">CONSUMIDORES</div>
<div class="t" id="t101_0" style="left:573.21px;top:433.50px;font-size:42.1px;line-height:42.1px;font-weight:400;color:#fff;transform:scaleX(0.9262);-webkit-text-stroke:1.8px #fff;">8.252</div>
<div class="t" id="t102_0" style="left:679.72px;top:449.50px;font-size:23.5px;line-height:23.5px;font-weight:400;color:#fff;transform:scaleX(0.9818);">M€</div>
<div class="t" id="t103_0" style="left:743.09px;top:400.81px;font-size:41.45px;line-height:41.45px;font-weight:700;color:#ffa401;transform:scaleX(0.9021);-webkit-text-stroke:1.1px #ffa401;">15,7</div>
<div class="t" id="t104_0" style="left:818.50px;top:417.81px;font-size:21px;line-height:21px;font-weight:400;color:#ffa401;transform:scaleX(0.8889);">%</div>
<div class="t" id="t105_0" style="left:743.20px;top:442.71px;font-size:10.5px;line-height:10.5px;font-weight:700;color:#ffa401;transform:scaleX(0.9488);-webkit-text-stroke:0.25px #ffa401;">Reducción precio</div>
<div class="t" id="t105_1" style="left:757.31px;top:452.61px;font-size:10.5px;line-height:10.5px;font-weight:700;color:#ffa401;transform:scaleX(0.9488);-webkit-text-stroke:0.25px #ffa401;">electricidad</div>
<div class="t" id="t106_0" style="left:570.84px;top:509.61px;font-size:17.35px;line-height:17.35px;font-weight:700;color:#fff;letter-spacing:1.3px;transform:scaleX(0.8026);-webkit-text-stroke:1.1px #fff;">INVERSIÓN EN I+D</div>
<div class="t" id="t107_0" style="left:635.57px;top:547.20px;font-size:30.4px;line-height:30.4px;font-weight:400;color:#fff;transform:scaleX(1.0741);-webkit-text-stroke:1.2px #fff;">3</div>
<div class="t" id="t108_0" style="left:655.20px;top:548.20px;font-size:14.5px;line-height:14.5px;font-weight:700;color:#fff;transform:scaleX(0.7667);">a</div>
<div class="t" id="t109_0" style="left:683.59px;top:547.20px;font-size:30.4px;line-height:30.4px;font-weight:400;color:#fff;transform:scaleX(0.9890);-webkit-text-stroke:1.2px #fff;">4</div>
<div class="t" id="t110_0" style="left:703.80px;top:548.20px;font-size:14.5px;line-height:14.5px;font-weight:700;color:#fff;transform:scaleX(0.8000);">a</div>
<div class="t" id="t111_0" style="left:637.37px;top:575.60px;font-size:7.8px;line-height:7.8px;font-weight:700;color:#fff;transform:scaleX(0.9771);-webkit-text-stroke:0.15px #fff;">posición</div>
<div class="t" id="t111_1" style="left:637.37px;top:582.90px;font-size:7.8px;line-height:7.8px;font-weight:700;color:#fff;transform:scaleX(0.9771);-webkit-text-stroke:0.15px #fff;">de UE</div>
<div class="t" id="t112_0" style="left:683.07px;top:575.60px;font-size:7.8px;line-height:7.8px;font-weight:700;color:#fff;transform:scaleX(0.9748);-webkit-text-stroke:0.15px #fff;">posición</div>
<div class="t" id="t112_1" style="left:683.07px;top:582.90px;font-size:7.8px;line-height:7.8px;font-weight:700;color:#fff;transform:scaleX(0.9748);-webkit-text-stroke:0.15px #fff;">del mundo</div>
<div class="t" id="t113_0" style="left:635.90px;top:600.70px;font-size:9.5px;line-height:9.5px;font-weight:700;color:#fff;letter-spacing:0.45px;transform:scaleX(0.7937);-webkit-text-stroke:0.25px #fff;">SOLICITUD DE</div>
<div class="t" id="t113_1" style="left:635.90px;top:611.11px;font-size:9.5px;line-height:9.5px;font-weight:700;color:#fff;letter-spacing:0.45px;transform:scaleX(0.7937);-webkit-text-stroke:0.25px #fff;">PATENTES EÓLICAS</div>
<div class="t" id="t113_2" style="left:635.90px;top:621.51px;font-size:9.5px;line-height:9.5px;font-weight:700;color:#fff;letter-spacing:0.45px;transform:scaleX(0.7937);-webkit-text-stroke:0.25px #fff;">EN ESPAÑA</div>
<div class="t" id="t114_0" style="left:575.76px;top:608.31px;font-size:41.45px;line-height:41.45px;font-weight:700;color:#fff;transform:scaleX(0.9953);-webkit-text-stroke:1.1px #fff;">1</div>
<div class="t" id="t115_0" style="left:595.40px;top:609.40px;font-size:13px;line-height:13px;font-weight:400;color:#fff;transform:scaleX(0.9240);">er</div>
<div class="t" id="t116_0" style="left:566.90px;top:650.71px;font-size:10.5px;line-height:10.5px;font-weight:700;color:#fff;transform:scaleX(0.8478);">desarrollador</div>
<div class="t" id="t116_1" style="left:566.90px;top:661.71px;font-size:10.5px;line-height:10.5px;font-weight:700;color:#fff;transform:scaleX(0.8478);">de prototipos</div>
<div class="t" id="t116_2" style="left:566.90px;top:672.71px;font-size:10.5px;line-height:10.5px;font-weight:700;color:#fff;transform:scaleX(0.8478);">de eólica</div>
<div class="t" id="t116_3" style="left:566.90px;top:683.71px;font-size:10.5px;line-height:10.5px;font-weight:700;color:#fff;transform:scaleX(0.8478);">marina</div>
<div class="t" id="t116_4" style="left:566.90px;top:694.71px;font-size:10.5px;line-height:10.5px;font-weight:700;color:#fff;transform:scaleX(0.8478);">flotante</div>
<div class="t" id="t117_0" style="left:652.36px;top:661.60px;font-size:30px;line-height:30px;font-weight:400;color:#fff;transform:scaleX(1.0415);">20</div>
<div class="t" id="t118_0" style="left:648.51px;top:691.81px;font-size:7.5px;line-height:7.5px;font-weight:700;color:#fff;letter-spacing:0.45px;transform:scaleX(0.8381);-webkit-text-stroke:0.25px #fff;">CENTROS DE</div>
<div class="t" id="t118_1" style="left:643.75px;top:700.01px;font-size:7.5px;line-height:7.5px;font-weight:700;color:#fff;letter-spacing:0.45px;transform:scaleX(0.8381);-webkit-text-stroke:0.25px #fff;">INVESTIGACIÓN</div>
<div class="t" id="t119_0" style="left:701.07px;top:664.20px;font-size:26px;line-height:26px;font-weight:400;color:#fff;transform:scaleX(1.0977);-webkit-text-stroke:0.3px #fff;">+</div>
<div class="t" id="t120_0" style="left:741.13px;top:663.00px;font-size:30px;line-height:30px;font-weight:400;color:#fff;transform:scaleX(0.8667);">9</div>
<div class="t" id="t121_0" style="left:720.00px;top:695.01px;font-size:7.5px;line-height:7.5px;font-weight:700;color:#fff;letter-spacing:0.45px;transform:scaleX(0.8144);-webkit-text-stroke:0.25px #fff;">UNIVERSIDADES</div>
<div class="t" id="t122_0" style="left:786.00px;top:667.02px;font-size:10px;line-height:10px;font-weight:700;color:#fff;transform:scaleX(0.8853);">Con</div>
<div class="t" id="t122_1" style="left:786.00px;top:676.61px;font-size:10px;line-height:10px;font-weight:700;color:#fff;transform:scaleX(0.8853);">actividades</div>
<div class="t" id="t122_2" style="left:786.00px;top:686.20px;font-size:10px;line-height:10px;font-weight:700;color:#fff;transform:scaleX(0.8853);">en el sector</div>
<div class="t" id="t122_3" style="left:786.00px;top:695.81px;font-size:10px;line-height:10px;font-weight:700;color:#fff;transform:scaleX(0.8853);">eólico</div>
<div class="t" id="t123_0" style="left:776.00px;top:547.82px;font-size:30.7px;line-height:30.7px;font-weight:700;color:#fff;transform:scaleX(1.0051);-webkit-text-stroke:0.6px #fff;">378</div>
<div class="t" id="t124_0" style="left:740.30px;top:594.81px;font-size:8px;line-height:8px;font-weight:700;color:#fff;letter-spacing:0.45px;transform:scaleX(0.7835);-webkit-text-stroke:0.25px #fff;">PUBLICACIONES DE</div>
<div class="t" id="t124_1" style="left:740.30px;top:604.21px;font-size:8px;line-height:8px;font-weight:700;color:#fff;letter-spacing:0.45px;transform:scaleX(0.7835);-webkit-text-stroke:0.25px #fff;">SOLICITUDES DE PATENTES</div>
<div class="t" id="t124_2" style="left:740.30px;top:613.60px;font-size:8px;line-height:8px;font-weight:700;color:#fff;letter-spacing:0.45px;transform:scaleX(0.7835);-webkit-text-stroke:0.25px #fff;">EN ESPAÑA PARA EL</div>
<div class="t" id="t124_3" style="left:740.30px;top:623.01px;font-size:8px;line-height:8px;font-weight:700;color:#fff;letter-spacing:0.45px;transform:scaleX(0.7835);-webkit-text-stroke:0.25px #fff;">SECTOR EÓLICO EN 2022</div>
<div class="t" id="t125_0" style="left:886.96px;top:101.80px;font-size:15.3px;line-height:15.3px;font-weight:700;color:#1cc0ea;letter-spacing:1.2px;transform:scaleX(0.8725);-webkit-text-stroke:1.0px #1cc0ea;">DATOS MUNDIALES</div>
<div class="t" id="t126_0" style="left:887.50px;top:121.40px;font-size:16px;line-height:16px;font-weight:700;color:#fff;transform:scaleX(0.9541);-webkit-text-stroke:0.2px #fff;">77,6</div>
<div class="t" id="t127_0" style="left:922.00px;top:125.41px;font-size:11px;line-height:11px;font-weight:400;color:#fff;transform:scaleX(0.7670);">GW</div>
<div class="t" id="t128_0" style="left:941.55px;top:125.01px;font-size:9.5px;line-height:9.5px;font-weight:400;color:#fff;transform:scaleX(0.8419);-webkit-text-stroke:0.35px #fff;">Nueva potencia instalada en 2022</div>
<div class="t" id="t129_0" style="left:893.87px;top:145.71px;font-size:21.75px;line-height:21.75px;font-weight:700;color:#fff;transform:scaleX(1.0901);-webkit-text-stroke:0.5px #fff;">906</div>
<div class="t" id="t130_0" style="left:937.00px;top:151.71px;font-size:14px;line-height:14px;font-weight:400;color:#fff;transform:scaleX(0.8839);">GW</div>
<div class="t" id="t131_0" style="left:892.88px;top:171.41px;font-size:8.6px;line-height:8.6px;font-weight:400;color:#fff;transform:scaleX(1.0547);-webkit-text-stroke:0.35px #fff;">Potencia mundial</div>
<div class="t" id="t131_1" style="left:892.88px;top:179.71px;font-size:8.6px;line-height:8.6px;font-weight:400;color:#fff;transform:scaleX(1.0547);-webkit-text-stroke:0.35px #fff;">total instalada</div>
<div class="t" id="t132_0" style="left:981.80px;top:147.01px;font-size:12.5px;line-height:12.5px;font-weight:700;color:#fff;transform:scaleX(1.1044);">841,7</div>
<div class="t" id="t133_0" style="left:1021.00px;top:149.02px;font-size:10px;line-height:10px;font-weight:400;color:#fff;transform:scaleX(0.8437);">GW</div>
<div class="t" id="t134_0" style="left:982.51px;top:159.41px;font-size:6.5px;line-height:6.5px;font-weight:400;color:#fff;transform:scaleX(1.0836);-webkit-text-stroke:0.2px #fff;">Eólica terrestre</div>
<div class="t" id="t135_0" style="left:981.80px;top:169.71px;font-size:12.5px;line-height:12.5px;font-weight:700;color:#fff;transform:scaleX(1.1897);">64,3</div>
<div class="t" id="t136_0" style="left:1014.50px;top:171.72px;font-size:10px;line-height:10px;font-weight:400;color:#fff;transform:scaleX(0.7987);">GW</div>
<div class="t" id="t137_0" style="left:982.51px;top:183.00px;font-size:6.5px;line-height:6.5px;font-weight:400;color:#fff;transform:scaleX(1.0635);-webkit-text-stroke:0.2px #fff;">Eólica marina</div>
<div class="t" id="t138_0" style="left:882.46px;top:206.01px;font-size:8px;line-height:8px;font-weight:400;color:#fff;transform:scaleX(0.9426);-webkit-text-stroke:0.35px #fff;">Ranking de</div>
<div class="t" id="t138_1" style="left:882.46px;top:214.76px;font-size:8px;line-height:8px;font-weight:400;color:#fff;transform:scaleX(0.9426);-webkit-text-stroke:0.35px #fff;">países por</div>
<div class="t" id="t138_2" style="left:882.46px;top:223.51px;font-size:8px;line-height:8px;font-weight:400;color:#fff;transform:scaleX(0.9426);-webkit-text-stroke:0.35px #fff;">potencia</div>
<div class="t" id="t138_3" style="left:882.46px;top:232.26px;font-size:8px;line-height:8px;font-weight:400;color:#fff;transform:scaleX(0.9426);-webkit-text-stroke:0.35px #fff;">total</div>
<div class="t" id="t138_4" style="left:882.46px;top:241.01px;font-size:8px;line-height:8px;font-weight:400;color:#fff;transform:scaleX(0.9426);-webkit-text-stroke:0.35px #fff;">instalada</div>
<div class="t" id="t139_0" style="left:936.39px;top:202.21px;font-size:9.8px;line-height:9.8px;font-weight:400;color:#fff;-webkit-text-stroke:0.35px #fff;">40%</div>
<div class="t" id="t140_0" style="left:971.09px;top:203.20px;font-size:9.3px;line-height:9.3px;font-weight:700;color:#fff;transform:scaleX(0.9198);-webkit-text-stroke:0.2px #fff;">China</div>
<div class="t" id="t141_0" style="left:936.39px;top:215.11px;font-size:9.8px;line-height:9.8px;font-weight:400;color:#fff;-webkit-text-stroke:0.35px #fff;">17%</div>
<div class="t" id="t142_0" style="left:971.08px;top:216.11px;font-size:9.3px;line-height:9.3px;font-weight:700;color:#fff;letter-spacing:0.45px;transform:scaleX(0.8307);-webkit-text-stroke:0.2px #fff;">EE.UU.</div>
<div class="t" id="t143_0" style="left:941.83px;top:228.11px;font-size:9.8px;line-height:9.8px;font-weight:400;color:#fff;-webkit-text-stroke:0.35px #fff;">7%</div>
<div class="t" id="t144_0" style="left:971.09px;top:229.11px;font-size:9.3px;line-height:9.3px;font-weight:700;color:#fff;transform:scaleX(0.9182);-webkit-text-stroke:0.2px #fff;">Alemania</div>
<div class="t" id="t145_0" style="left:941.83px;top:240.61px;font-size:9.8px;line-height:9.8px;font-weight:400;color:#fff;-webkit-text-stroke:0.35px #fff;">5%</div>
<div class="t" id="t146_0" style="left:971.09px;top:241.61px;font-size:9.3px;line-height:9.3px;font-weight:700;color:#fff;transform:scaleX(0.8889);-webkit-text-stroke:0.2px #fff;">India</div>
<div class="t" id="t147_0" style="left:940.45px;top:254.91px;font-size:10.7px;line-height:10.7px;font-weight:400;color:#fff;-webkit-text-stroke:0.6px #fff;">4%</div>
<div class="t" id="t148_0" style="left:971.84px;top:254.91px;font-size:11px;line-height:11px;font-weight:700;color:#0e4fa3;transform:scaleX(0.9650);-webkit-text-stroke:0.3px #0e4fa3;">España</div>
<div class="t" id="t149_0" style="left:1026.26px;top:229.71px;font-size:34px;line-height:34px;font-weight:400;color:#0e4fa3;transform:scaleX(0.9353);">5</div>
<div class="t" id="t150_0" style="left:928.06px;top:290.81px;font-size:16px;line-height:16px;font-weight:700;color:#fff;transform:scaleX(1.0779);-webkit-text-stroke:0.3px #fff;">64,3</div>
<div class="t" id="t151_0" style="left:964.00px;top:295.81px;font-size:10px;line-height:10px;font-weight:400;color:#fff;transform:scaleX(0.8044);">GW</div>
<div class="t" id="t152_0" style="left:928.06px;top:308.20px;font-size:9.5px;line-height:9.5px;font-weight:400;color:#fff;transform:scaleX(0.9207);-webkit-text-stroke:0.35px #fff;">Potencia</div>
<div class="t" id="t152_1" style="left:928.06px;top:317.81px;font-size:9.5px;line-height:9.5px;font-weight:400;color:#fff;transform:scaleX(0.9207);-webkit-text-stroke:0.35px #fff;">eólica marina</div>
<div class="t" id="t152_2" style="left:928.06px;top:327.40px;font-size:9.5px;line-height:9.5px;font-weight:400;color:#fff;transform:scaleX(0.9207);-webkit-text-stroke:0.35px #fff;">en el mundo</div>
<div class="t" id="t153_0" style="left:998.16px;top:290.81px;font-size:16px;line-height:16px;font-weight:700;color:#fff;transform:scaleX(1.0776);-webkit-text-stroke:0.3px #fff;">8,8</div>
<div class="t" id="t154_0" style="left:1025.00px;top:295.81px;font-size:10px;line-height:10px;font-weight:400;color:#fff;transform:scaleX(0.8268);">GW</div>
<div class="t" id="t155_0" style="left:998.16px;top:308.20px;font-size:9.5px;line-height:9.5px;font-weight:400;color:#fff;transform:scaleX(0.9212);-webkit-text-stroke:0.35px #fff;">Nueva potencia</div>
<div class="t" id="t155_1" style="left:998.16px;top:317.51px;font-size:9.5px;line-height:9.5px;font-weight:400;color:#fff;transform:scaleX(0.9212);-webkit-text-stroke:0.35px #fff;">instalada eólica</div>
<div class="t" id="t155_2" style="left:998.16px;top:326.81px;font-size:9.5px;line-height:9.5px;font-weight:400;color:#fff;transform:scaleX(0.9212);-webkit-text-stroke:0.35px #fff;">marina mundial</div>
<div class="t" id="t155_3" style="left:998.16px;top:336.11px;font-size:9.5px;line-height:9.5px;font-weight:400;color:#fff;transform:scaleX(0.9212);-webkit-text-stroke:0.35px #fff;">2022</div>
<div class="t" id="t156_0" style="left:882.06px;top:362.01px;font-size:8px;line-height:8px;font-weight:400;color:#fff;transform:scaleX(0.9417);-webkit-text-stroke:0.35px #fff;">Ranking</div>
<div class="t" id="t156_1" style="left:882.06px;top:371.31px;font-size:8px;line-height:8px;font-weight:400;color:#fff;transform:scaleX(0.9417);-webkit-text-stroke:0.35px #fff;">de países</div>
<div class="t" id="t156_2" style="left:882.06px;top:380.60px;font-size:8px;line-height:8px;font-weight:400;color:#fff;transform:scaleX(0.9417);-webkit-text-stroke:0.35px #fff;">eólica</div>
<div class="t" id="t156_3" style="left:882.06px;top:389.90px;font-size:8px;line-height:8px;font-weight:400;color:#fff;transform:scaleX(0.9417);-webkit-text-stroke:0.35px #fff;">marina</div>
<div class="t" id="t157_0" style="left:936.09px;top:359.52px;font-size:9.8px;line-height:9.8px;font-weight:400;color:#fff;-webkit-text-stroke:0.35px #fff;">49%</div>
<div class="t" id="t158_0" style="left:971.59px;top:360.50px;font-size:9.3px;line-height:9.3px;font-weight:700;color:#fff;transform:scaleX(0.9123);-webkit-text-stroke:0.2px #fff;">China</div>
<div class="t" id="t159_0" style="left:936.09px;top:372.52px;font-size:9.8px;line-height:9.8px;font-weight:400;color:#fff;-webkit-text-stroke:0.35px #fff;">22%</div>
<div class="t" id="t160_0" style="left:971.59px;top:373.50px;font-size:9.3px;line-height:9.3px;font-weight:700;color:#fff;transform:scaleX(0.9464);-webkit-text-stroke:0.2px #fff;">Reino Unido</div>
<div class="t" id="t161_0" style="left:936.09px;top:385.41px;font-size:9.8px;line-height:9.8px;font-weight:400;color:#fff;-webkit-text-stroke:0.35px #fff;">13%</div>
<div class="t" id="t162_0" style="left:971.59px;top:386.41px;font-size:9.3px;line-height:9.3px;font-weight:700;color:#fff;transform:scaleX(0.9182);-webkit-text-stroke:0.2px #fff;">Alemania</div>
<div class="t" id="t163_0" style="left:941.53px;top:398.41px;font-size:9.8px;line-height:9.8px;font-weight:400;color:#fff;-webkit-text-stroke:0.35px #fff;">4%</div>
<div class="t" id="t164_0" style="left:971.59px;top:399.41px;font-size:9.3px;line-height:9.3px;font-weight:700;color:#fff;transform:scaleX(0.8799);-webkit-text-stroke:0.2px #fff;">Países Bajos</div>
<div class="t" id="t165_0" style="left:941.53px;top:411.41px;font-size:9.8px;line-height:9.8px;font-weight:400;color:#fff;-webkit-text-stroke:0.35px #fff;">4%</div>
<div class="t" id="t166_0" style="left:971.59px;top:412.41px;font-size:9.3px;line-height:9.3px;font-weight:700;color:#fff;transform:scaleX(0.9347);-webkit-text-stroke:0.2px #fff;">Dinamarca</div>
<div class="t" id="t167_0" style="left:886.98px;top:433.61px;font-size:15.3px;line-height:15.3px;font-weight:700;color:#1cc0ea;letter-spacing:1.2px;transform:scaleX(0.8443);-webkit-text-stroke:1.0px #1cc0ea;">DATOS EUROPA</div>
<div class="t" id="t168_0" style="left:889.60px;top:465.81px;font-size:16px;line-height:16px;font-weight:700;color:#fff;transform:scaleX(1.0372);-webkit-text-stroke:0.2px #fff;">219</div>
<div class="t" id="t169_0" style="left:920.80px;top:469.80px;font-size:11px;line-height:11px;font-weight:400;color:#fff;transform:scaleX(0.8182);">GW</div>
<div class="t" id="t170_0" style="left:889.18px;top:480.92px;font-size:8.5px;line-height:8.5px;font-weight:400;color:#fff;transform:scaleX(1.0097);-webkit-text-stroke:0.35px #fff;">Potencia acumulada</div>
<div class="t" id="t170_1" style="left:889.18px;top:489.81px;font-size:8.5px;line-height:8.5px;font-weight:400;color:#fff;transform:scaleX(1.0097);-webkit-text-stroke:0.35px #fff;">en Europa</div>
<div class="t" id="t171_0" style="left:980.74px;top:465.81px;font-size:16px;line-height:16px;font-weight:700;color:#fff;transform:scaleX(1.0703);-webkit-text-stroke:0.2px #fff;">19</div>
<div class="t" id="t172_0" style="left:1003.30px;top:469.80px;font-size:11px;line-height:11px;font-weight:400;color:#fff;transform:scaleX(0.8182);">GW</div>
<div class="t" id="t173_0" style="left:981.88px;top:480.92px;font-size:8.5px;line-height:8.5px;font-weight:400;color:#fff;transform:scaleX(1.0083);-webkit-text-stroke:0.35px #fff;">Nueva potencia</div>
<div class="t" id="t173_1" style="left:981.88px;top:489.81px;font-size:8.5px;line-height:8.5px;font-weight:400;color:#fff;transform:scaleX(1.0083);-webkit-text-stroke:0.35px #fff;">instalada en 2022</div>
<div class="t" id="t174_0" style="left:885.96px;top:514.51px;font-size:29.6px;line-height:29.6px;font-weight:700;color:#fff;transform:scaleX(0.8990);-webkit-text-stroke:0.8px #fff;">17</div>
<div class="t" id="t175_0" style="left:916.00px;top:526.51px;font-size:15px;line-height:15px;font-weight:400;color:#fff;transform:scaleX(0.8462);">%</div>
<div class="t" id="t176_0" style="left:886.68px;top:544.42px;font-size:8.5px;line-height:8.5px;font-weight:400;color:#fff;transform:scaleX(1.0362);-webkit-text-stroke:0.35px #fff;">electricidad</div>
<div class="t" id="t176_1" style="left:886.68px;top:553.11px;font-size:8.5px;line-height:8.5px;font-weight:400;color:#fff;transform:scaleX(1.0362);-webkit-text-stroke:0.35px #fff;">producida por</div>
<div class="t" id="t176_2" style="left:886.68px;top:561.81px;font-size:8.5px;line-height:8.5px;font-weight:400;color:#fff;transform:scaleX(1.0362);-webkit-text-stroke:0.35px #fff;">la eólica</div>
<div class="t" id="t177_0" style="left:963.38px;top:519.70px;font-size:14.65px;line-height:14.65px;font-weight:400;color:#fff;transform:scaleX(1.0742);-webkit-text-stroke:0.7px #fff;">+ 300.000</div>
<div class="t" id="t178_0" style="left:963.16px;top:539.61px;font-size:11px;line-height:11px;font-weight:400;color:#fff;transform:scaleX(0.9172);-webkit-text-stroke:0.35px #fff;">empleos generados</div>
<div class="t" id="t178_1" style="left:963.16px;top:550.21px;font-size:11px;line-height:11px;font-weight:400;color:#fff;transform:scaleX(0.9172);-webkit-text-stroke:0.35px #fff;">en Europa</div>
<div class="t" id="t179_0" style="left:884.88px;top:588.01px;font-size:8px;line-height:8px;font-weight:400;color:#fff;transform:scaleX(1.0250);-webkit-text-stroke:0.35px #fff;">Ranking</div>
<div class="t" id="t179_1" style="left:884.88px;top:596.60px;font-size:8px;line-height:8px;font-weight:400;color:#fff;transform:scaleX(1.0250);-webkit-text-stroke:0.35px #fff;">de países</div>
<div class="t" id="t179_2" style="left:884.88px;top:605.21px;font-size:8px;line-height:8px;font-weight:400;color:#fff;transform:scaleX(1.0250);-webkit-text-stroke:0.35px #fff;">por nueva</div>
<div class="t" id="t179_3" style="left:884.88px;top:613.81px;font-size:8px;line-height:8px;font-weight:400;color:#fff;transform:scaleX(1.0250);-webkit-text-stroke:0.35px #fff;">potencia en</div>
<div class="t" id="t179_4" style="left:884.88px;top:622.40px;font-size:8px;line-height:8px;font-weight:400;color:#fff;transform:scaleX(1.0250);-webkit-text-stroke:0.35px #fff;">2022</div>
<div class="t" id="t180_0" style="left:935.69px;top:583.80px;font-size:9.8px;line-height:9.8px;font-weight:400;color:#fff;-webkit-text-stroke:0.35px #fff;">14%</div>
<div class="t" id="t181_0" style="left:970.69px;top:584.81px;font-size:9.3px;line-height:9.3px;font-weight:700;color:#fff;transform:scaleX(0.9300);-webkit-text-stroke:0.2px #fff;">Alemania</div>
<div class="t" id="t182_0" style="left:935.69px;top:596.21px;font-size:9.8px;line-height:9.8px;font-weight:400;color:#fff;-webkit-text-stroke:0.35px #fff;">13%</div>
<div class="t" id="t183_0" style="left:970.69px;top:597.20px;font-size:9.3px;line-height:9.3px;font-weight:700;color:#fff;transform:scaleX(0.8967);-webkit-text-stroke:0.2px #fff;">Suecia</div>
<div class="t" id="t184_0" style="left:935.69px;top:608.71px;font-size:9.8px;line-height:9.8px;font-weight:400;color:#fff;-webkit-text-stroke:0.35px #fff;">13%</div>
<div class="t" id="t185_0" style="left:970.69px;top:609.70px;font-size:9.3px;line-height:9.3px;font-weight:700;color:#fff;transform:scaleX(0.9227);-webkit-text-stroke:0.2px #fff;">Finlandia</div>
<div class="t" id="t186_0" style="left:936.41px;top:621.21px;font-size:9.8px;line-height:9.8px;font-weight:400;color:#fff;-webkit-text-stroke:0.35px #fff;">11%</div>
<div class="t" id="t187_0" style="left:970.69px;top:622.20px;font-size:9.3px;line-height:9.3px;font-weight:700;color:#fff;transform:scaleX(0.8974);-webkit-text-stroke:0.2px #fff;">Francia</div>
<div class="t" id="t188_0" style="left:941.13px;top:634.02px;font-size:9.8px;line-height:9.8px;font-weight:400;color:#fff;-webkit-text-stroke:0.35px #fff;">9%</div>
<div class="t" id="t189_0" style="left:970.69px;top:635.00px;font-size:9.3px;line-height:9.3px;font-weight:700;color:#fff;transform:scaleX(0.9048);-webkit-text-stroke:0.2px #fff;">Reino Unido</div>
<div class="t" id="t190_0" style="left:939.75px;top:648.61px;font-size:10.7px;line-height:10.7px;font-weight:400;color:#fff;-webkit-text-stroke:0.6px #fff;">8%</div>
<div class="t" id="t191_0" style="left:971.24px;top:648.61px;font-size:11px;line-height:11px;font-weight:700;color:#0e4fa3;transform:scaleX(0.9650);-webkit-text-stroke:0.3px #0e4fa3;">España</div>
<div class="t" id="t192_0" style="left:1032.90px;top:628.41px;font-size:30.4px;line-height:30.4px;font-weight:400;color:#0e4fa3;transform:scaleX(0.9000);">6</div>
<div class="t" id="t193_0" style="left:933.45px;top:680.40px;font-size:13.5px;line-height:13.5px;font-weight:700;color:#fff;transform:scaleX(1.1608);-webkit-text-stroke:0.25px #fff;">30,2</div>
<div class="t" id="t194_0" style="left:967.30px;top:683.41px;font-size:10px;line-height:10px;font-weight:400;color:#fff;transform:scaleX(0.8493);">GW</div>
<div class="t" id="t195_0" style="left:933.47px;top:696.70px;font-size:9px;line-height:9px;font-weight:400;color:#fff;transform:scaleX(0.9467);-webkit-text-stroke:0.35px #fff;">Potencia</div>
<div class="t" id="t195_1" style="left:933.47px;top:705.70px;font-size:9px;line-height:9px;font-weight:400;color:#fff;transform:scaleX(0.9467);-webkit-text-stroke:0.35px #fff;">eólica marina</div>
<div class="t" id="t195_2" style="left:933.47px;top:714.70px;font-size:9px;line-height:9px;font-weight:400;color:#fff;transform:scaleX(0.9467);-webkit-text-stroke:0.35px #fff;">instalada en</div>
<div class="t" id="t195_3" style="left:933.47px;top:723.70px;font-size:9px;line-height:9px;font-weight:400;color:#fff;transform:scaleX(0.9467);-webkit-text-stroke:0.35px #fff;">Europa</div>
<div class="t" id="t196_0" style="left:1001.43px;top:680.40px;font-size:13.5px;line-height:13.5px;font-weight:700;color:#fff;transform:scaleX(1.0611);-webkit-text-stroke:0.25px #fff;">2,5</div>
<div class="t" id="t197_0" style="left:1025.80px;top:683.41px;font-size:10px;line-height:10px;font-weight:400;color:#fff;transform:scaleX(0.8550);">GW</div>
<div class="t" id="t198_0" style="left:1001.47px;top:695.42px;font-size:9px;line-height:9px;font-weight:400;color:#fff;transform:scaleX(0.9467);-webkit-text-stroke:0.35px #fff;">Nueva</div>
<div class="t" id="t198_1" style="left:1001.47px;top:704.26px;font-size:9px;line-height:9px;font-weight:400;color:#fff;transform:scaleX(0.9467);-webkit-text-stroke:0.35px #fff;">potencia</div>
<div class="t" id="t198_2" style="left:1001.47px;top:713.11px;font-size:9px;line-height:9px;font-weight:400;color:#fff;transform:scaleX(0.9467);-webkit-text-stroke:0.35px #fff;">instalada</div>
<div class="t" id="t198_3" style="left:1001.47px;top:721.95px;font-size:9px;line-height:9px;font-weight:400;color:#fff;transform:scaleX(0.9467);-webkit-text-stroke:0.35px #fff;">eólica marina</div>
<div class="t" id="t198_4" style="left:1001.47px;top:730.81px;font-size:9px;line-height:9px;font-weight:400;color:#fff;transform:scaleX(0.9467);-webkit-text-stroke:0.35px #fff;">en Europa</div>
<div class="r" style="left:25.3px;top:691px;width:0;height:0"><div style="position:absolute;left:0;top:0;transform:translate(-50%,-50%) rotate(-90deg);white-space:nowrap;font-size:6.7px;line-height:7px;color:#7d7d7d">Datos a junio de 2023</div></div>
<svg class="r" style="left:442px;top:527px" width="7" height="8" viewBox="0 0 7 8"><circle cx="3.3" cy="3" r="1.6" fill="none" stroke="#fff" stroke-width="0.9"/><rect x="1.4" y="5.6" width="3.8" height="0.9" fill="#fff"/></svg>
<div class="r" style="left:241.2px;top:560.2px;width:63.0px;height:63.0px;border-radius:50%;background:#fff;box-sizing:border-box;border:1.5px solid #00b0a3;"></div>
<div class="r" style="left:963.8px;top:207.2px;width:1.2px;height:53.5px;background:#1cc0ea"></div>
<div class="r" style="left:961.9px;top:205.1px;width:5.0px;height:5.0px;border-radius:50%;background:#1cc0ea;box-sizing:border-box;"></div>
<div class="r" style="left:961.9px;top:218.0px;width:5.0px;height:5.0px;border-radius:50%;background:#1cc0ea;box-sizing:border-box;"></div>
<div class="r" style="left:961.9px;top:231.0px;width:5.0px;height:5.0px;border-radius:50%;background:#1cc0ea;box-sizing:border-box;"></div>
<div class="r" style="left:961.9px;top:243.5px;width:5.0px;height:5.0px;border-radius:50%;background:#1cc0ea;box-sizing:border-box;"></div>
<div class="r" style="left:961.5999999999999px;top:257.90000000000003px;width:5.4px;height:5.4px;border-radius:50%;background:#1cc0ea;box-sizing:border-box;"></div>
<div class="r" style="left:1015.6000000000001px;top:221.1px;width:46.6px;height:46.6px;border-radius:50%;background:none;box-sizing:border-box;border:0.8px solid #005aac;"></div>
<svg class="r" style="left:1040px;top:230px" width="16" height="18" viewBox="0 0 16 18"><circle cx="8.5" cy="7.6" r="3.2" fill="none" stroke="#0e4fa3" stroke-width="1.3"/><rect x="5" y="14.4" width="7.6" height="1.3" fill="#0e4fa3"/></svg>
<div class="r" style="left:963.8px;top:364.5px;width:1.2px;height:51.89999999999998px;background:#1cc0ea"></div>
<div class="r" style="left:961.9px;top:362.4px;width:5.0px;height:5.0px;border-radius:50%;background:#1cc0ea;box-sizing:border-box;"></div>
<div class="r" style="left:961.9px;top:375.4px;width:5.0px;height:5.0px;border-radius:50%;background:#1cc0ea;box-sizing:border-box;"></div>
<div class="r" style="left:961.9px;top:388.29999999999995px;width:5.0px;height:5.0px;border-radius:50%;background:#1cc0ea;box-sizing:border-box;"></div>
<div class="r" style="left:961.9px;top:401.29999999999995px;width:5.0px;height:5.0px;border-radius:50%;background:#1cc0ea;box-sizing:border-box;"></div>
<div class="r" style="left:961.9px;top:414.29999999999995px;width:5.0px;height:5.0px;border-radius:50%;background:#1cc0ea;box-sizing:border-box;"></div>
<div class="r" style="left:962.6999999999999px;top:589.2px;width:1.2px;height:63.89999999999998px;background:#1cc0ea"></div>
<div class="r" style="left:960.8px;top:586.6999999999999px;width:5.0px;height:5.0px;border-radius:50%;background:#1cc0ea;box-sizing:border-box;"></div>
<div class="r" style="left:960.8px;top:599.1px;width:5.0px;height:5.0px;border-radius:50%;background:#1cc0ea;box-sizing:border-box;"></div>
<div class="r" style="left:960.8px;top:611.6px;width:5.0px;height:5.0px;border-radius:50%;background:#1cc0ea;box-sizing:border-box;"></div>
<div class="r" style="left:960.8px;top:624.1px;width:5.0px;height:5.0px;border-radius:50%;background:#1cc0ea;box-sizing:border-box;"></div>
<div class="r" style="left:960.8px;top:636.9px;width:5.0px;height:5.0px;border-radius:50%;background:#1cc0ea;box-sizing:border-box;"></div>
<div class="r" style="left:960.5999999999999px;top:650.4px;width:5.4px;height:5.4px;border-radius:50%;background:#1cc0ea;box-sizing:border-box;"></div>
<div class="r" style="left:1023.9999999999999px;top:621.9px;width:40.2px;height:40.2px;border-radius:50%;background:none;box-sizing:border-box;border:0.8px solid #005aac;"></div>
<svg class="r" style="left:1046px;top:628px" width="14" height="16" viewBox="0 0 14 16"><circle cx="7.4" cy="8.2" r="3" fill="none" stroke="#0e4fa3" stroke-width="1.2"/><rect x="4" y="13.5" width="6.8" height="1.2" fill="#0e4fa3"/></svg>
<div class="r" style="left:150.9px;top:634.0px;width:59.2px;height:59.2px;border-radius:50%;background:#fff;box-sizing:border-box;border:2px solid #00b1dc;"></div>
<svg class="r" style="left:148px;top:632px" width="66" height="66" viewBox="0 0 756 756"><g fill="none" stroke="#00b1dc" stroke-width="20" stroke-linejoin="round" stroke-linecap="round"><path d="M178,308 L380,150 L592,300"/><path d="M215,280 L215,515 L355,515 M410,515 L550,515 L550,280"/><rect x="332" y="248" width="105" height="100"/><path d="M384,250 V348 M334,298 H436"/><path d="M382,515 V455 M382,455 C360,410 330,400 305,400 C310,440 345,460 382,455 C405,410 435,400 460,400 C455,440 420,460 382,455"/></g></svg>
<svg class="r" style="left:240px;top:560px" width="65" height="65" viewBox="0 0 756 756"><g fill="none" stroke="#00b0a3" stroke-width="17" stroke-linejoin="round" stroke-linecap="round"><path d="M295,78 L262,232 L328,232 Z"/><circle cx="295" cy="265" r="32"/><circle cx="295" cy="265" r="6" fill="#00b0a3"/><path d="M265,282 L112,360 L275,318"/><path d="M325,282 L462,360 L315,318"/><path d="M272,298 L262,540 M318,298 L330,540"/><rect x="232" y="540" width="120" height="90" rx="14"/><path d="M262,585 H322 M262,560 V610 M322,560 V610"/><circle cx="520" cy="440" r="135" fill="#fff"/><path d="M535,350 L440,462 L498,462 L478,545 L580,420 L520,420 Z"/></g></svg>
</body></html>
